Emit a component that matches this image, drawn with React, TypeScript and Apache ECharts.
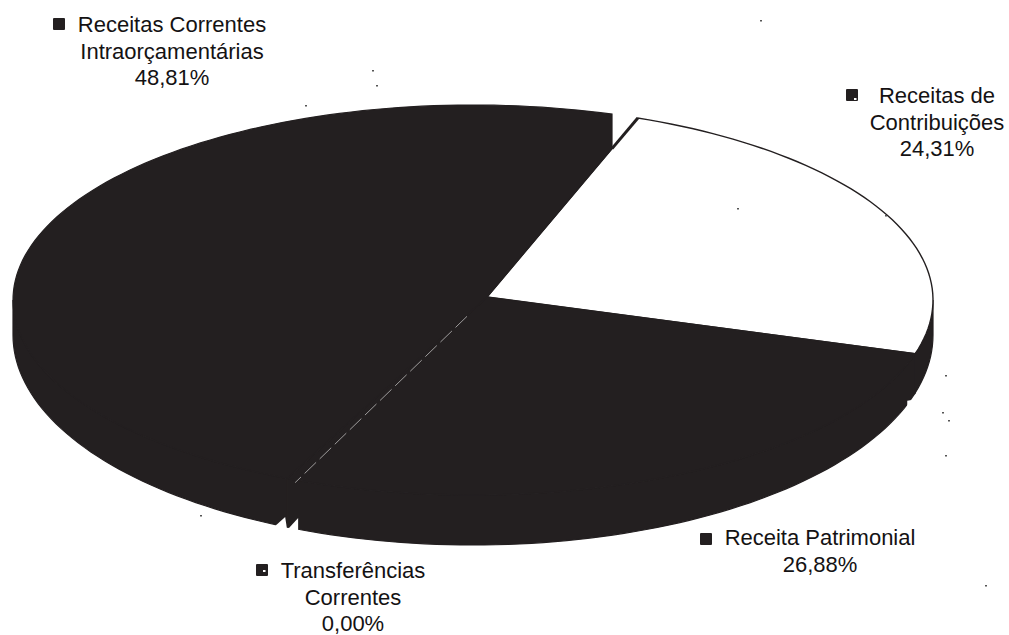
import React, { useEffect, useRef } from "react";
import * as echarts from "echarts";

const categories = ["Receitas de\nContribuições", "Receita Patrimonial", "Transferências\nCorrentes", "Receitas Correntes\nIntraorçamentárias"];
const seriesValues = [24.31, 26.88, 0.0, 48.81];
const percentLabels = ["24,31%", "26,88%", "0,00%", "48,81%"];

const INK = "#231f20";
const T0 = 69;
const TOP = { cx: 473, cy: 300, rx: 460, ry: 195 };
const LOW = { cx: 473, cy: 335, rx: 460, ry: 210 };
const APEX = [487, 297];
const labelPos = [[937, 122], [820, 551], [353, 597], [172, 51]];
const keyPos = [[852, 95], [706, 539], [262, 570], [59, 24]];
const keyFleck = [[855, 99], null, [264, 571], null];
const specks = [[945, 375], [942, 412], [945, 455], [985, 585], [376, 85], [372, 70], [760, 20], [305, 105], [737, 208], [200, 515], [885, 215], [948, 420]];

const rad = (d: number) => (d * Math.PI) / 180;
const warp = (t: number) => t - 2.7 * Math.sin(rad(0.8 * (t - T0)));
const onEllipse = (e: typeof TOP, t: number) => [e.cx + e.rx * Math.cos(rad(t)), e.cy - e.ry * Math.sin(rad(t))];
const arc = (e: typeof TOP, a: number, b: number) => {
  const n = Math.max(2, Math.ceil(Math.abs(a - b) / 1.5));
  const out: number[][] = [];
  for (let i = 0; i <= n; i++) out.push(onEllipse(e, a + ((b - a) * i) / n));
  return out;
};

function renderSlice(params: any, api: any) {
  const i = params.dataIndex;
  let acc = 0;
  for (let k = 0; k < i; k++) acc += seriesValues[k];
  const total = seriesValues.reduce((a, b) => a + b, 0);
  const a0 = warp(T0 - (acc / total) * 360);
  const a1raw = T0 - ((acc + Number(api.value(0))) / total) * 360;
  const a1 = warp(a1raw);
  const children: any[] = [];
  const poly = (points: number[][], fill: string, stroke: string, lineWidth = 1.2) => ({
    type: "polygon",
    shape: { points },
    style: { fill, stroke, lineWidth },
  });
  const front0 = Math.min(a0, 0);
  const front1 = Math.max(a1, -180);
  if (front0 > front1) {
    children.push(poly([...arc(LOW, front0, front1), ...arc(TOP, front1, front0)], INK, INK));
  }
  if (i === 0) {
    const corner = onEllipse(TOP, a0);
    const cutX = 612;
    const cutY = APEX[1] + ((corner[1] - APEX[1]) * (cutX - APEX[0])) / (corner[0] - APEX[0]);
    children.push(poly([APEX, ...arc(TOP, a0, a1)], "#ffffff", INK, 1.4));
    children.push({ type: "line", shape: { x1: cutX, y1: cutY, x2: corner[0], y2: corner[1] }, style: { stroke: INK, lineWidth: 3 } });
  } else if (i === 1) {
    children.push(poly([APEX, ...arc(TOP, a0, a1)], INK, INK));
    const lp = onEllipse(LOW, a0);
    children.push({
      type: "polygon",
      z2: 6,
      shape: { points: [[lp[0] - 2, lp[1] + 7], [lp[0] - 8, lp[1] + 8], [lp[0] - 8, lp[1] + 17], [lp[0] + 3, lp[1] + 17]] },
      style: { fill: "#ffffff" },
    });
  } else if (i === 2) {
    const p = onEllipse(TOP, a1);
    const end = [p[0], p[1] + 12];
    const lerp = (f: number) => [APEX[0] + (end[0] - APEX[0]) * f, APEX[1] + (end[1] - APEX[1]) * f];
    const c = lerp(0.1);
    const d = lerp(0.96);
    children.push({
      type: "line",
      z2: 5,
      shape: { x1: c[0], y1: c[1], x2: d[0], y2: d[1] },
      style: { stroke: "#9d9b9b", lineWidth: 1, lineDash: [16, 5] },
    });
  } else {
    const start = onEllipse(TOP, warp(T0));
    const cutX = 612;
    const cutY = APEX[1] + ((start[1] - APEX[1]) * (cutX - APEX[0])) / (start[0] - APEX[0]);
    const endT = -360 + (Math.acos((cutX - TOP.cx) / TOP.rx) * 180) / Math.PI;
    children.push(poly([APEX, ...arc(TOP, a0, endT), [cutX, cutY]], INK, INK));
    const q = onEllipse(LOW, a0);
    children.push({
      type: "polygon",
      z2: 6,
      shape: { points: [[q[0] - 12, q[1] - 1], [q[0] - 2, q[1] - 10], [q[0], q[1] + 3]] },
      style: { fill: "#ffffff" },
    });
    children.push({
      type: "polygon",
      z2: 6,
      shape: { points: [[q[0], q[1] + 3], [q[0] + 11, q[1] - 9], [q[0] + 11, q[1] + 5]] },
      style: { fill: "#ffffff" },
    });
  }
  return { type: "group", children };
}

export default function App() {
  const ref = useRef<HTMLDivElement>(null);
  useEffect(() => {
    document.body.style.margin = "0";
    const chart = echarts.init(ref.current!, null, { renderer: "svg" });
    const graphic: any[] = [];
    categories.forEach((name, i) => {
      const [x, y] = labelPos[i];
      graphic.push({
        type: "text",
        z: 20,
        style: {
          text: name + "\n" + percentLabels[i],
          x,
          y,
          fill: "#141213",
          font: '22px "Liberation Sans"',
          textAlign: "center",
          textVerticalAlign: "middle",
          lineHeight: 26.5,
        },
      });
      const [kx, ky] = keyPos[i];
      graphic.push({ type: "rect", z: 20, shape: { x: kx - 6, y: ky - 6, width: 12, height: 12, r: 1 }, style: { fill: INK } });
      const f = keyFleck[i];
      if (f) graphic.push({ type: "rect", z: 21, shape: { x: f[0] - 1, y: f[1] - 1, width: 2.5, height: 2 }, style: { fill: "#ffffff" } });
    });
    specks.forEach(([x, y]) => {
      graphic.push({ type: "rect", z: 20, shape: { x, y, width: 2, height: 1.4 }, style: { fill: "#555555" } });
    });
    chart.setOption({
      animation: false,
      backgroundColor: "#ffffff",
      graphic,
      series: [
        {
          type: "custom",
          coordinateSystem: "none",
          renderItem: renderSlice,
          silent: true,
          data: seriesValues.map((v, i) => ({ name: categories[i], value: [v] })),
        },
      ],
    });
    return () => chart.dispose();
  }, []);
  return <div ref={ref} style={{ width: 1009, height: 635 }} />;
}
